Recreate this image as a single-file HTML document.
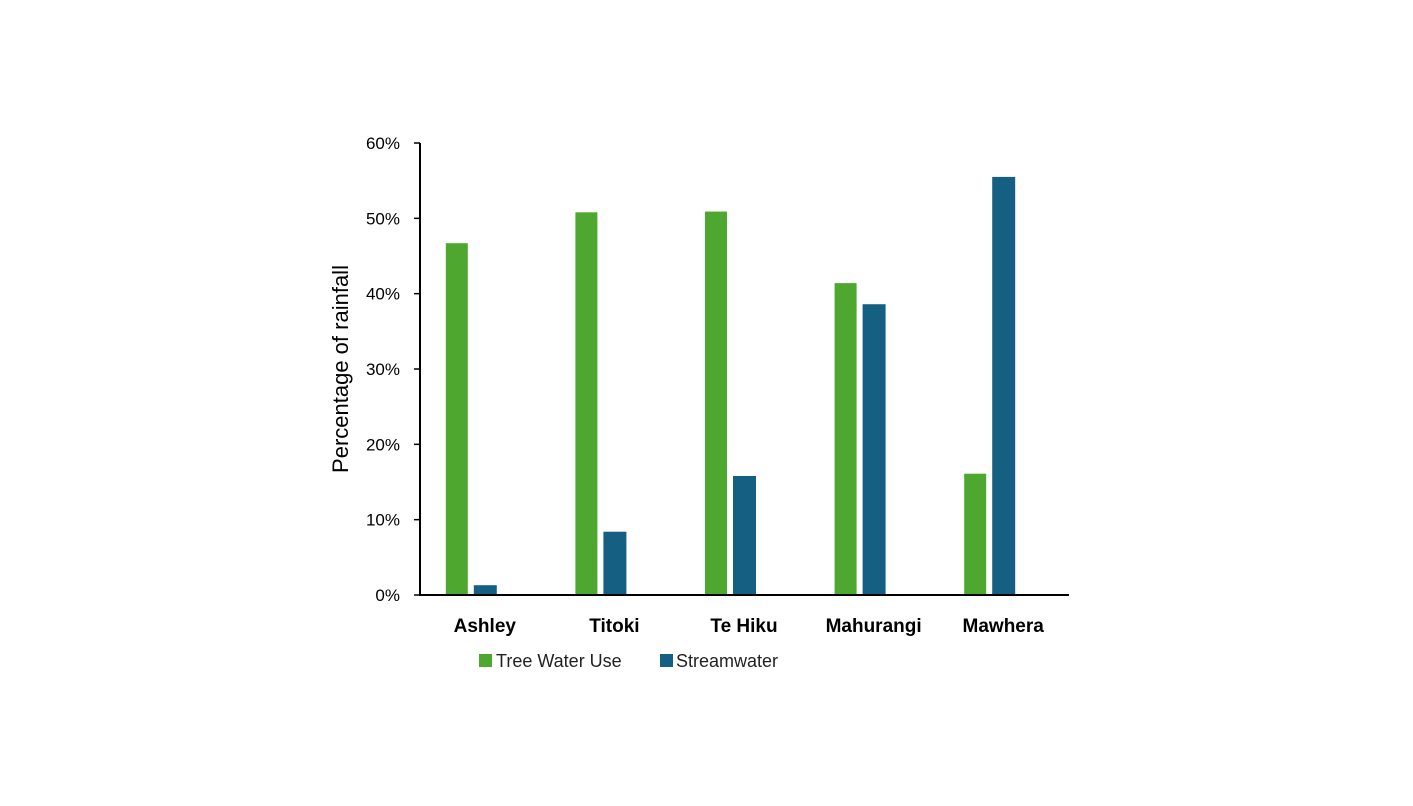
<!DOCTYPE html>
<html><head><meta charset="utf-8"><style>
body{margin:0;background:#fff;}
svg{display:block;font-family:"Liberation Sans",sans-serif;}
</style></head><body>
<svg width="1413" height="806">
<g id="plot"></g>
</svg>
<script>
const categories=["Ashley","Titoki","Te Hiku","Mahurangi","Mawhera"];
const treeWaterUse=[46.7,50.8,50.9,41.4,16.1];
const streamwater=[1.3,8.4,15.8,38.6,55.5];
const yTicks=[0,10,20,30,40,50,60];
const NS="http://www.w3.org/2000/svg";
const g=document.getElementById('plot');
const x0=420,x1=1068,y0=595,yTop=143,yMax=60;
const y=v=>y0-(v/yMax)*(y0-yTop);
const bw=(x1-x0)/categories.length;
const cx=i=>x0+bw*(i+0.5);
function el(t,a,txt){const e=document.createElementNS(NS,t);for(const k in a)e.setAttribute(k,a[k]);if(txt!==undefined)e.textContent=txt;g.appendChild(e);return e;}
yTicks.forEach(t=>{
 const tk=el('line',{x1:414,x2:420,y1:y(t),y2:y(t),stroke:'#000','stroke-width':1.5});
 
 
 const l=el('text',{x:400,y:y(t)+6,'text-anchor':'end','font-size':17,fill:'#000'},t+'%');
 
 
});
categories.forEach((c,i)=>{
 const pc=cx(i)-14;
 const b1=el('rect',{x:pc-25,y:y(treeWaterUse[i]),width:22,height:y0-y(treeWaterUse[i]),fill:'#4EA72E'});
 
 
 const b2=el('rect',{x:pc+3,y:y(streamwater[i]),width:23,height:y0-y(streamwater[i]),fill:'#156082'});
 
 
 const l=el('text',{x:cx(i),y:632,'text-anchor':'middle','font-size':19,'font-weight':'bold',fill:'#000'},c);
 
 
});
const ya=el('line',{x1:420,x2:420,y1:143,y2:596,stroke:'#000','stroke-width':2});


const xa=el('line',{x1:419,x2:1069,y1:595,y2:595,stroke:'#000','stroke-width':2});


const yt=el('text',{x:348,y:369,'text-anchor':'middle','font-size':22,fill:'#000',transform:'rotate(-90 348 369)'},'Percentage of rainfall');


const s1=el('rect',{x:479,y:654,width:13,height:13,fill:'#4EA72E'});


const t1=el('text',{x:496,y:667,'font-size':18,fill:'#222'},'Tree Water Use');


const s2=el('rect',{x:660,y:654,width:13,height:13,fill:'#156082'});


const t2=el('text',{x:676,y:667,'font-size':18,fill:'#222'},'Streamwater');


</script>
</body></html>
